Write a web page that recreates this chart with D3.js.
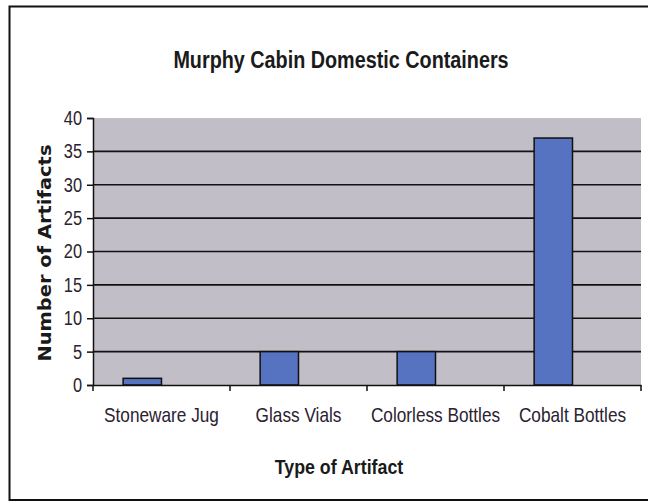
<!DOCTYPE html>
<html>
<head>
<meta charset="utf-8">
<script src="https://cdn.jsdelivr.net/npm/d3@7"></script>
<style>
  body { margin: 0; background: #fff; }
  svg { display: block; }
</style>
</head>
<body>
<svg id="chart" width="648" height="502"></svg>
<script>
// Chart data
var categories = ['Stoneware Jug', 'Glass Vials', 'Colorless Bottles', 'Cobalt Bottles'];
var counts = [1, 5, 5, 37];
var y_ticks = [0, 5, 10, 15, 20, 25, 30, 35, 40];

var sans = '"Liberation Sans", Arial, sans-serif';
var svg = d3.select('#chart');

// No narrow font available, so squeeze the glyphs horizontally instead.
function condense(sel, k) {
    sel.each(function () {
        var w = this.getComputedTextLength();
        d3.select(this).attr('textLength', w * k).attr('lengthAdjust', 'spacingAndGlyphs');
    });
}

// outer frame (right side runs off the picture)
svg.append('path')
    .attr('d', 'M9.5,501 L9.5,6.5 L648,6.5')
    .attr('fill', 'none').attr('stroke', '#111').attr('stroke-width', 2);
svg.append('line')
    .attr('x1', 9).attr('x2', 648).attr('y1', 500).attr('y2', 500)
    .attr('stroke', '#111').attr('stroke-width', 2);

var plot = { left: 93, top: 118, right: 641, bottom: 385 };

var x = d3.scaleBand().domain(categories).range([plot.left, plot.right]);
var y = d3.scaleLinear().domain([0, 40]).range([plot.bottom, plot.top]);

// plot background
svg.append('rect')
    .attr('x', plot.left).attr('y', plot.top)
    .attr('width', plot.right - plot.left).attr('height', plot.bottom - plot.top)
    .attr('fill', '#c2bec7');

// gridlines
svg.append('g').selectAll('line').data(y_ticks.filter(function (d) { return d > 0 && d < 40; }))
    .enter().append('line')
    .attr('x1', plot.left).attr('x2', plot.right)
    .attr('y1', function (d) { return y(d); }).attr('y2', function (d) { return y(d); })
    .attr('stroke', '#111').attr('stroke-width', 1.6);

// bars sit in the left half of each category, ending at its centre
var bar_w = x.bandwidth() * 0.28;
svg.append('g').selectAll('rect').data(counts)
    .enter().append('rect')
    .attr('x', function (d, i) { return x(categories[i]) + x.bandwidth() / 2 - bar_w; })
    .attr('y', function (d) { return y(d); })
    .attr('width', bar_w)
    .attr('height', function (d) { return y(0) - y(d); })
    .attr('fill', '#5673c2')
    .attr('stroke', '#111').attr('stroke-width', 1.5);

// y axis
var y_axis = svg.append('g')
    .attr('transform', 'translate(' + plot.left + ',0)')
    .call(d3.axisLeft(y).tickValues(y_ticks).tickSize(6).tickPadding(5));
y_axis.select('.domain').attr('stroke', '#111').attr('stroke-width', 1.5);
y_axis.selectAll('.tick line').attr('stroke', '#111').attr('stroke-width', 1.5);
y_axis.selectAll('text')
    .attr('font-family', sans).attr('font-size', 20).attr('fill', '#2a2230')
    .call(condense, 0.82);

// x axis
var x_axis = svg.append('g')
    .attr('transform', 'translate(0,' + plot.bottom + ')')
    .call(d3.axisBottom(x).tickSize(0).tickPadding(22));
x_axis.select('.domain').attr('stroke', '#111').attr('stroke-width', 1.5);
x_axis.selectAll('text')
    .attr('font-family', sans).attr('font-size', 21).attr('fill', '#2a2230')
    .call(condense, 0.82);
// tick marks between categories
svg.append('g').selectAll('line').data(d3.range(categories.length + 1))
    .enter().append('line')
    .attr('x1', function (i) { return plot.left + i * x.step(); })
    .attr('x2', function (i) { return plot.left + i * x.step(); })
    .attr('y1', plot.bottom).attr('y2', plot.bottom + 6)
    .attr('stroke', '#111').attr('stroke-width', 1.5);

// title
svg.append('text')
    .attr('x', 341).attr('y', 68)
    .attr('text-anchor', 'middle')
    .attr('font-family', sans).attr('font-weight', 'bold').attr('font-size', 23)
    .attr('fill', '#1a1a1a')
    .text('Murphy Cabin Domestic Containers')
    .call(condense, 0.86);

// axis titles
svg.append('text')
    .attr('x', 339).attr('y', 474)
    .attr('text-anchor', 'middle')
    .attr('font-family', sans).attr('font-weight', 'bold').attr('font-size', 20)
    .attr('fill', '#1a1a1a')
    .text('Type of Artifact')
    .call(condense, 0.89);

svg.append('text')
    .attr('transform', 'translate(51,253) rotate(-90)')
    .attr('text-anchor', 'middle')
    .attr('font-family', '"DejaVu Sans", Verdana, sans-serif').attr('font-weight', 'bold').attr('font-size', 18)
    .attr('fill', '#1a1a1a')
    .attr('textLength', 217).attr('lengthAdjust', 'spacingAndGlyphs')
    .text('Number of Artifacts');
</script>
</body>
</html>
